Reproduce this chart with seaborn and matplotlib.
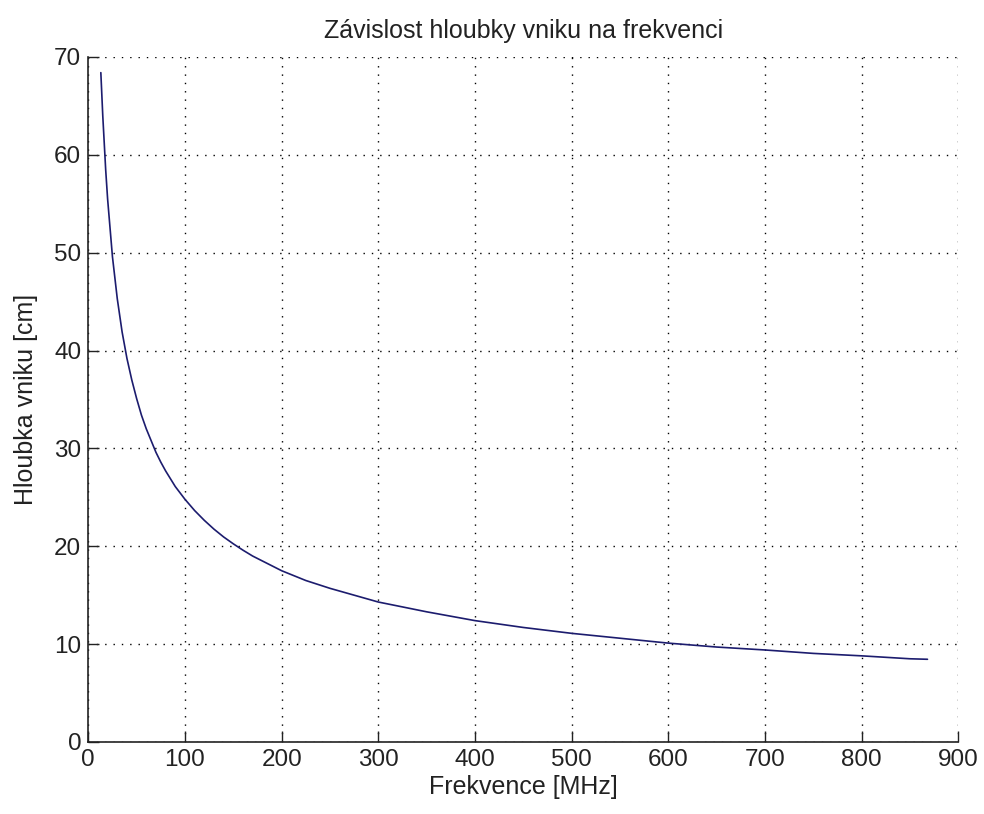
import pandas as pd
import matplotlib
matplotlib.use("Agg")
import matplotlib.pyplot as plt
import seaborn as sns

# values
freq = [13, 15, 18, 20, 25, 30, 35, 40, 45, 50, 55, 60, 65, 70, 75, 80, 90, 100,
        110, 120, 130, 140, 150, 160, 170, 180, 190, 200, 225, 250, 275, 300, 350,
        400, 450, 500, 550, 600, 650, 700, 750, 800, 850, 868]
depth = [68.4, 64.0, 58.5, 55.5, 49.6, 45.3, 41.9, 39.2, 37.0, 35.1, 33.4, 32.0,
         30.8, 29.6, 28.6, 27.7, 26.1, 24.8, 23.65, 22.65, 21.75, 20.95, 20.25, 19.6,
         19.0, 18.5, 18.0, 17.5, 16.5, 15.7, 15.0, 14.3, 13.3, 12.4, 11.7, 11.1,
         10.6, 10.1, 9.7, 9.4, 9.05, 8.8, 8.5, 8.45]
x_ticks = [0, 100, 200, 300, 400, 500, 600, 700, 800, 900]
y_ticks = [0, 10, 20, 30, 40, 50, 60, 70]

df = pd.DataFrame({'f': freq, 'd': depth})

sns.set_style("ticks")
plt.rcParams['font.family'] = ['Liberation Sans', 'DejaVu Sans']

fig = plt.figure(figsize=(9.84, 8.14), dpi=100)
ax = fig.add_axes([0.0897, 0.0885, 0.8843, 0.8415])
sns.lineplot(data=df, x='f', y='d', ax=ax, color='#1c1c6e', linewidth=1.2)

ax.set_xlim(0, 900)
ax.set_ylim(0, 70)
ax.set_xticks(x_ticks)
ax.set_yticks(y_ticks)
ax.tick_params(direction='in', length=8, width=1, labelsize=17.5, colors='#222222', pad=5)
ax.grid(True, linestyle=(0, (1, 5)), color='black', linewidth=1)
ax.spines['top'].set_visible(False)
ax.spines['right'].set_visible(False)
for s in ['left', 'bottom']:
    ax.spines[s].set_linewidth(1.2)
    ax.spines[s].set_color('#222222')

ax.set_title('Závislost hloubky vniku na frekvenci', fontsize=18, pad=14, color='#222222')
ax.set_xlabel('Frekvence [MHz]', fontsize=18, labelpad=3, color='#222222')
ax.set_ylabel('Hloubka vniku [cm]', fontsize=18, labelpad=12, color='#222222')

plt.savefig('out.png', dpi=100)
